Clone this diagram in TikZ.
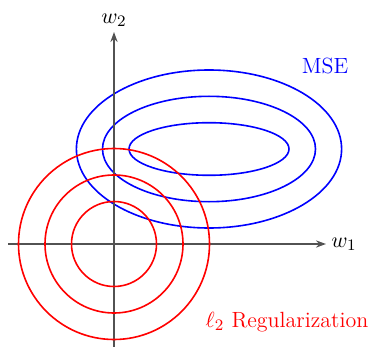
\documentclass[tikz,border=0pt]{standalone}
\usetikzlibrary{arrows.meta}
\begin{document}
\begin{tikzpicture}[x=0.5pt,y=-0.5pt,
  axis/.style={draw=black!68,line width=0.75pt,-{Stealth[length=5pt,width=3.6pt]}},
  mse/.style={draw=blue,line width=0.8pt},
  reg/.style={draw=red,line width=0.8pt},
  lbl/.style={font=\fontsize{11}{13}\selectfont}]
\useasboundingbox (0,0) rectangle (374,347);
\coordinate (O) at (114,244);
\coordinate (C) at (209,149);
% MSE ellipses
\draw[mse] (C) ellipse [x radius=80, y radius=26.3];
\draw[mse] (C) ellipse [x radius=106.5, y radius=52.7];
\draw[mse] (C) ellipse [x radius=132.6, y radius=79];
% axes
\coordinate (xs) at (8,244);
\coordinate (xe) at (326,244);
\coordinate (ys) at (114,347);
\coordinate (ye) at (114,32);
\draw[axis] (xs) -- (xe);
\draw[axis] (ys) -- (ye);
% L2 circles
\draw[reg] (O) circle [radius=42.5];
\draw[reg] (O) circle [radius=69];
\draw[reg] (O) circle [radius=95.5];
% labels
\node[lbl,anchor=west,inner sep=2.5pt] (w1) at (xe) {$w_1$};
\node[lbl,anchor=south,inner sep=2.5pt] (w2) at (ye) {$w_2$};
\node[lbl,text=blue] (mselbl) at (325,66) {MSE};
\node[lbl,text=red] (reglbl) at (287,322) {$\ell_2$ Regularization};
\end{tikzpicture}
\end{document}
